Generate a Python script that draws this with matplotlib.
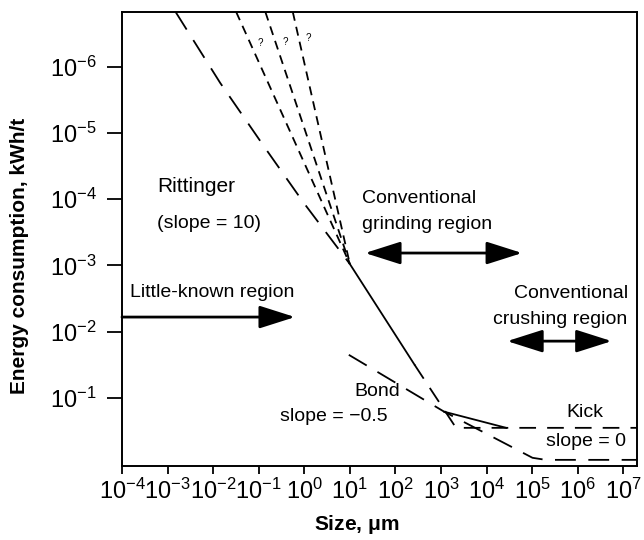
import matplotlib
matplotlib.use("Agg")
import matplotlib.pyplot as plt

plt.rcParams['font.family'] = ['Liberation Sans', 'DejaVu Sans']
plt.rcParams['mathtext.fontset'] = 'custom'
plt.rcParams['mathtext.rm'] = 'Liberation Sans'
plt.rcParams['mathtext.it'] = 'Liberation Sans:italic'
plt.rcParams['mathtext.bf'] = 'Liberation Sans:bold'
plt.rcParams['lines.scale_dashes'] = False

# size in um, energy in kWh/t
rittinger_x = [1.5e-3, 1.43e-2, 0.133, 0.97, 10]
rittinger_y = [1.48e-7, 1.75e-6, 1.62e-5, 1.13e-4, 9.5e-4]

# the three "?" extrapolations, each from the top edge to the junction
unknown_top_x = [0.032, 0.14, 0.56]
unknown_top_y = 1.48e-7
junction = (10, 9.5e-4)

main_solid_x = [10, 263]
main_solid_y = [9.5e-4, 0.0316]
main_dash_x = [263, 2140, 2e7]
main_dash_y = [0.0316, 0.284, 0.284]

kick_solid_x = [1175, 2.7e4]
kick_solid_y = [0.162, 0.284]

bond_x = [9.5, 1175, 1.02e5, 2.0e5, 2e7]
bond_y = [0.0224, 0.162, 0.805, 0.865, 0.865]

xticks = [10.0 ** k for k in range(-4, 8)]
xlabels = ['$10^{%d}$' % k for k in range(-4, 8)]
yticks = [10.0 ** k for k in range(-6, 0)]
ylabels = ['$10^{%d}$' % k for k in range(-6, 0)]

fig = plt.figure(figsize=(6.44, 5.4), dpi=100)
ax = fig.add_axes([0.1894, 0.137, 0.7996, 0.841])
ax.set_xscale('log')
ax.set_yscale('log')

long_dash = (15, 9)
short_dash = (6.5, 4.5)
lw = 1.3

ax.plot(rittinger_x, rittinger_y, color='black', lw=lw, dashes=long_dash)
for ux in unknown_top_x:
    ax.plot([ux, junction[0]], [unknown_top_y, junction[1]], color='black', lw=lw, dashes=short_dash)
ax.plot(main_solid_x, main_solid_y, color='black', lw=lw)
ax.plot(main_dash_x, main_dash_y, color='black', lw=lw, dashes=(12, 8))
ax.plot(kick_solid_x, kick_solid_y, color='black', lw=lw)
ax.plot(bond_x, bond_y, color='black', lw=lw, dashes=long_dash)

ax.set_xlim(1e-4, 10 ** 7.3)
ax.set_ylim(10 ** 0.03, 10 ** -6.83)
ax.set_xticks(xticks, xlabels)
ax.set_yticks(yticks, ylabels)
ax.minorticks_off()
ax.tick_params(axis='x', direction='out', length=6, width=1.3, pad=3, labelsize=17)
ax.tick_params(axis='y', direction='out', length=11, width=1.3, pad=7, labelsize=17)
for s in ax.spines.values():
    s.set_linewidth(1.4)

# question marks
for qx, qy in [(0.268, 0.932), (0.318, 0.934), (0.361, 0.943)]:
    ax.text(qx, qy, '?', transform=ax.transAxes, fontsize=7, ha='center', va='center')

tf = ax.transAxes
fs = 14
ax.text(0.068, 0.615, 'Rittinger', transform=tf, fontsize=15, va='center')
ax.text(0.068, 0.535, '(slope = 10)', transform=tf, fontsize=fs, va='center')
ax.text(0.466, 0.590, 'Conventional', transform=tf, fontsize=fs, va='center')
ax.text(0.466, 0.531, 'grinding region', transform=tf, fontsize=fs, va='center')
ax.text(0.0155, 0.383, 'Little-known region', transform=tf, fontsize=fs, va='center')
ax.text(0.982, 0.379, 'Conventional', transform=tf, fontsize=fs, va='center', ha='right')
ax.text(0.982, 0.322, 'crushing region', transform=tf, fontsize=fs, va='center', ha='right')
ax.text(0.495, 0.165, 'Bond', transform=tf, fontsize=fs, va='center', ha='center')
ax.text(0.307, 0.108, 'slope = \u22120.5', transform=tf, fontsize=fs, va='center')
ax.text(0.899, 0.117, 'Kick', transform=tf, fontsize=fs, va='center', ha='center')
ax.text(0.901, 0.053, 'slope = 0', transform=tf, fontsize=fs, va='center', ha='center')

one = dict(arrowstyle='-|>,head_length=1.1,head_width=0.35', color='black', lw=2,
           mutation_scale=20, shrinkA=0, shrinkB=0)
two = dict(arrowstyle='<|-|>,head_length=1.1,head_width=0.35', color='black', lw=2,
           mutation_scale=20, shrinkA=0, shrinkB=0)
ax.annotate('', xy=(0.336, 0.328), xytext=(0.0, 0.328), xycoords=tf, textcoords=tf, arrowprops=one)
ax.annotate('', xy=(0.777, 0.469), xytext=(0.472, 0.469), xycoords=tf, textcoords=tf, arrowprops=two)
ax.annotate('', xy=(0.951, 0.275), xytext=(0.748, 0.275), xycoords=tf, textcoords=tf, arrowprops=two)

fig.text(20 / 644, 1 - 256 / 540, 'Energy consumption, kWh/t', rotation=90,
         fontsize=15, fontweight='bold', ha='center', va='center')
fig.text(357 / 644, 1 - 525 / 540, 'Size, $\\mathbf{\\mu}$m', fontsize=15,
         fontweight='bold', ha='center', va='center')

fig.savefig('out.png', dpi=100)
